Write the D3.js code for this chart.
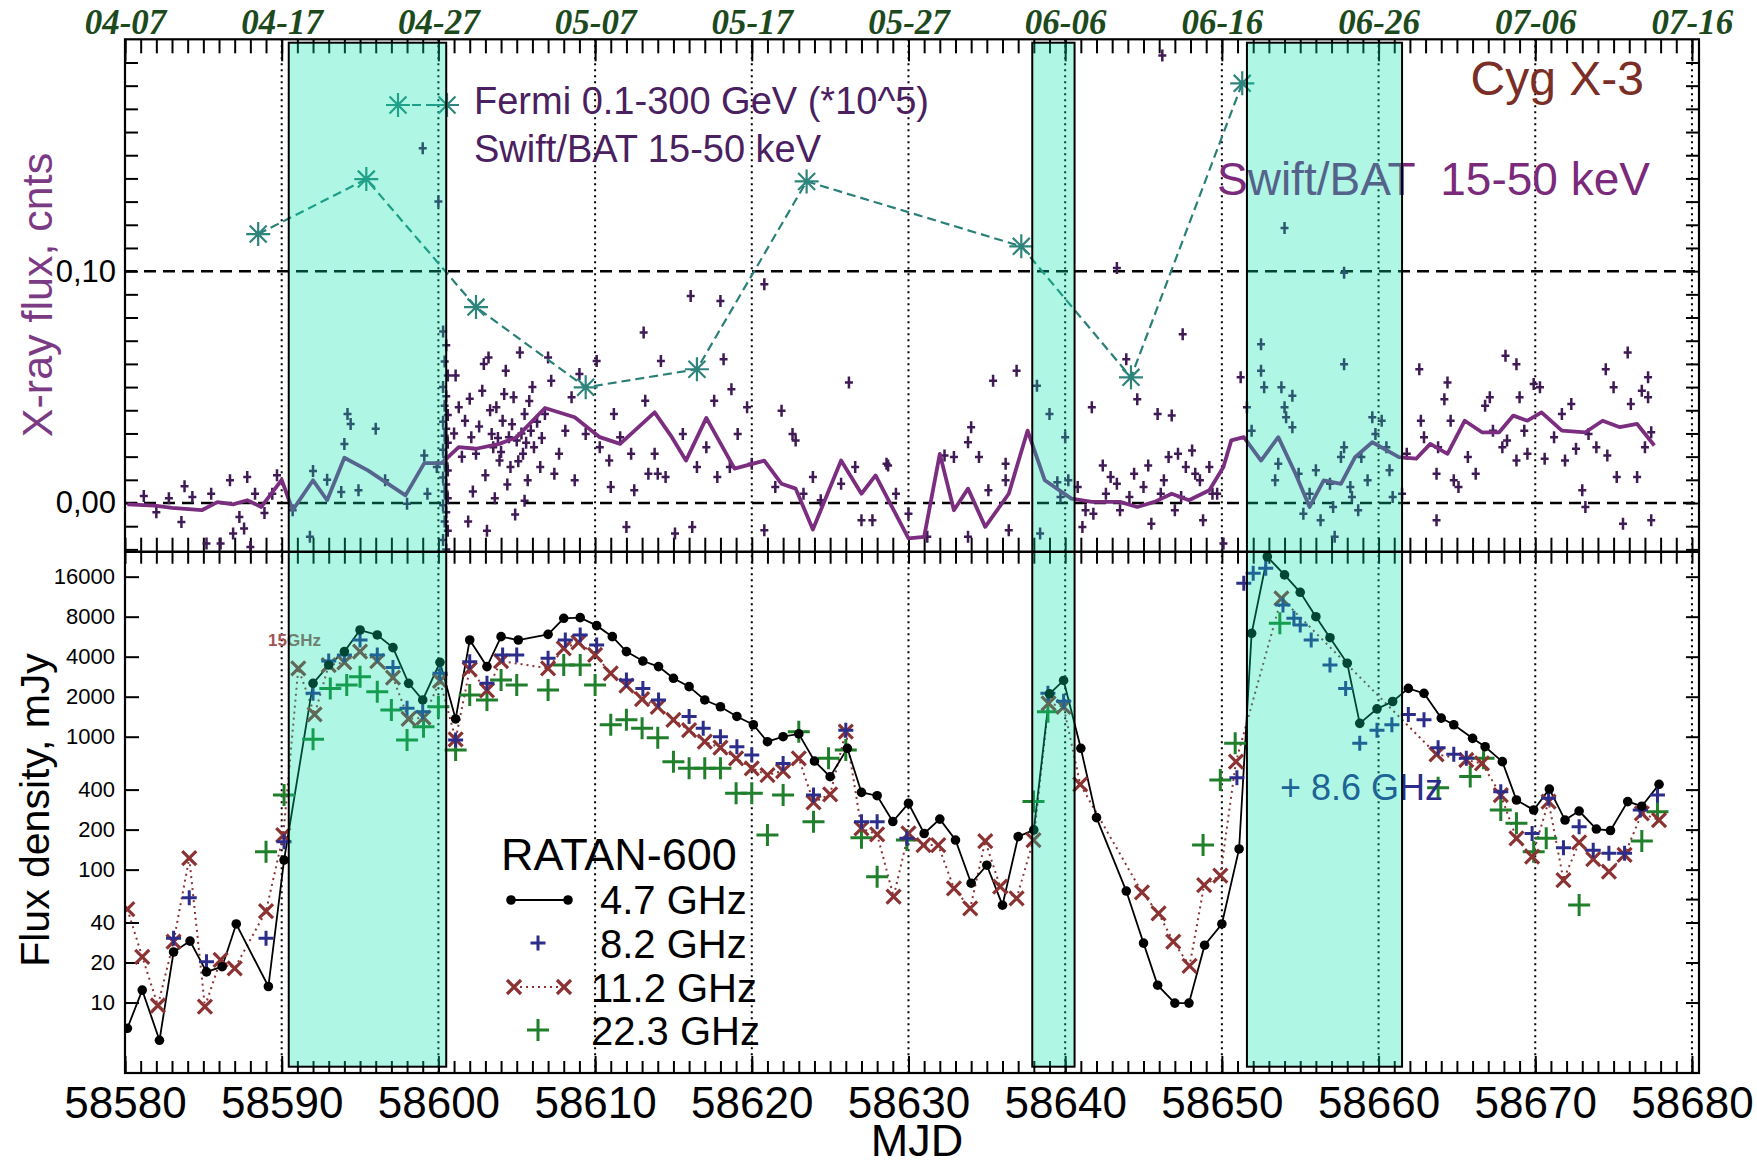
<!DOCTYPE html>
<html>
<head>
<meta charset="utf-8">
<script src="https://cdn.jsdelivr.net/npm/d3@7"></script>
<style>
  body { margin: 0; background: #fff; }
  svg { display: block; }
  text { font-family: "Liberation Sans", Arial, Helvetica, sans-serif; }
</style>
</head>
<body>
<svg id="chart" width="1757" height="1167"></svg>
<script>
// ---- data (MJD, value) ----

// Swift/BAT 15-50 keV single measurements, cnts
var batPoints = [
  [58581.2,0.003],[58582.0,-0.004],[58582.8,0.002],[58583.6,-0.0082],[58583.8,0.0072],[58584.3,0.0026],
  [58585.2,-0.0175],[58585.5,0.004],[58586.1,-0.0175],[58586.7,0.0098],[58586.9,-0.0132],[58587.3,-0.006],
  [58587.6,-0.011],[58587.8,0.0112],[58588.0,-0.019],[58588.3,0.004],[58588.9,-0.0043],[58589.4,0.004],[58589.7,0.012],
  [58590.7,-0.0031],[58591.8,-0.0146],[58592.0,0.0138],[58592.9,0.010],[58593.8,0.0047],[58594.0,0.0255],
  [58594.2,0.0384],[58594.4,0.0341],[58594.9,0.0055],[58596.0,0.032],[58596.6,0.0098],[58598.0,-0.0003],
  [58599.1,0.0205],[58599.3,0.004],[58599.9,0.0155],[58599.0,0.153],[58600.0,0.130],
  [58600.3,0.074],[58600.5,0.068],[58600.4,0.061],[58600.6,0.055],[58600.3,0.050],[58600.5,0.046],[58600.4,0.042],
  [58600.6,0.038],[58600.3,0.035],[58600.5,0.032],[58600.4,0.029],[58600.6,0.026],[58600.3,0.023],[58600.5,0.020],
  [58600.4,0.017],[58600.6,0.014],[58600.3,0.011],[58600.5,0.008],[58600.4,0.005],[58600.6,0.002],[58600.3,-0.001],
  [58600.5,-0.004],[58600.4,-0.008],[58600.6,-0.012],[58600.3,-0.016],[58600.5,-0.020],
  [58601.3,0.0413],[58601.7,0.0355],[58602.1,0.0284],[58602.4,0.0212],[58602.8,0.0484],[58603.2,0.0628],
  [58603.4,0.0298],[58603.5,0.0241],[58603.7,0.0413],[58603.9,0.0183],[58604.1,0.0355],[58604.3,0.057],
  [58604.5,0.0284],[58604.6,0.0155],[58604.8,0.0456],[58605.0,0.027],[58605.2,0.0649],[58605.4,0.0212],
  [58605.5,0.0384],[58605.7,0.0098],[58605.9,0.0312],[58606.1,0.0241],[58606.5,0.0155],[58606.8,0.0384],
  [58607.0,0.0628],[58607.2,0.0527],[58607.4,0.0126],[58607.7,0.0212],[58608.1,0.0312],[58608.5,0.0456],[58608.7,0.0098],
  [58601.0,0.030],[58601.5,0.020],[58602.0,0.045],[58602.6,0.033],[58603.0,0.012],[58603.3,0.040],[58603.8,0.028],
  [58604.0,0.022],[58604.2,0.047],[58604.7,0.034],[58605.1,0.018],[58605.3,0.030],[58605.6,0.026],[58605.8,0.044],
  [58606.3,0.035],[58606.6,0.028],[58601.1,0.055],[58602.2,0.005],[58603.6,0.002],[58604.4,0.008],[58605.5,0.001],
  [58601.9,-0.008],[58603.1,-0.012],[58604.9,-0.005],[58606.0,0.050],[58602.9,0.060],
  [58609.0,0.0556],[58609.4,0.0298],[58610.1,0.0613],[58610.3,0.0241],[58610.9,0.0183],[58611.0,0.0069],
  [58611.2,0.0384],[58611.6,0.0284],[58612.0,-0.0103],[58612.3,0.0212],[58612.5,0.0055],[58613.1,0.0735],
  [58613.2,0.0441],[58613.4,0.0126],[58613.8,0.0212],[58614.0,0.0126],[58614.2,0.0613],[58614.5,0.0112],
  [58615.1,-0.0132],[58615.6,0.0298],[58616.1,0.0893],[58616.2,-0.0103],[58616.5,0.0155],[58617.1,0.0241],
  [58617.6,0.0441],[58617.8,0.0112],[58618.0,0.0871],[58618.2,0.062],[58618.6,0.0155],[58618.7,0.0491],
  [58619.1,0.0298],[58619.7,0.0413],[58620.0,0.0169],[58620.8,-0.0117],[58620.8,0.0943],[58621.5,0.0069],
  [58621.9,0.0398],[58622.6,0.0298],[58622.8,0.027],[58623.3,0.004],[58623.9,0.0112],[58624.4,0.0012],
  [58625.7,0.0083],[58626.2,0.052],[58626.6,0.0155],[58627.0,-0.0074],[58627.7,-0.0074],[58628.6,0.0169],
  [58629.2,0.004],[58628.7,0.0162],[58630.0,-0.0046],[58631.2,-0.0146],[58632.3,0.0205],[58632.9,0.0198],
  [58633.8,-0.0146],[58634.0,0.0327],[58633.8,0.0262],[58634.5,0.0198],[58635.1,0.0055],[58635.4,0.0527],
  [58636.2,0.0169],[58636.2,0.0098],[58636.4,-0.0117],[58636.9,0.057],[58638.2,0.0506],[58638.4,-0.0132],
  [58639.0,0.0384],[58639.5,0.009],[58639.7,0.0026],[58640.0,0.0284],[58640.2,0.0098],[58640.8,0.0069],
  [58641.1,-0.0103],[58641.3,-0.0031],[58641.7,0.0413],[58641.8,-0.0046],[58642.4,0.0162],[58642.6,0.004],
  [58642.9,0.0112],[58643.3,0.0083],[58643.5,-0.0031],[58643.9,0.062],[58644.1,0.0026],[58644.4,0.0126],
  [58644.6,0.0448],[58645.0,0.0069],[58645.3,0.0162],[58645.5,-0.0089],[58645.9,0.0384],[58646.1,0.004],
  [58646.3,0.0098],[58646.6,0.0198],[58646.8,0.0377],[58647.0,-0.0031],[58647.2,0.0212],[58647.4,0.0026],
  [58647.5,0.0728],[58647.7,0.0155],[58648.1,0.0226],[58648.3,0.0126],[58648.6,0.0098],[58648.8,-0.0074],
  [58649.2,0.0155],[58649.4,0.004],[58649.7,0.004],[58650.1,-0.0175],[58651.2,0.0542],
  [58651.6,0.0413],[58651.9,0.0312],[58652.5,0.0685],[58652.5,0.057],[58652.7,0.0499],[58653.4,0.0098],
  [58653.6,0.0169],[58653.8,0.0499],[58654.0,0.0413],[58654.1,0.037],[58654.5,0.0463],[58654.5,0.0327],
  [58654.9,0.0126],[58655.2,-0.0046],[58655.6,0.004],[58656.0,0.0141],[58656.3,-0.0074],[58656.9,0.0083],
  [58657.1,-0.0017],[58657.2,-0.0146],[58657.6,0.0198],[58657.8,0.0599],[58657.8,0.0241],[58658.2,0.0069],
  [58658.3,0.0026],[58658.7,-0.0031],[58658.9,0.0198],[58659.3,0.0098],[58659.6,0.037],[58659.8,0.0298],
  [58660.2,0.0355],[58660.5,0.0241],[58660.7,0.0141],[58660.9,0.0026],
  [58661.5,0.004],[58661.8,0.0212],[58662.6,0.0577],[58662.7,0.0355],[58662.9,0.0284],[58663.7,0.0126],
  [58663.7,-0.0074],[58663.8,0.0241],[58664.2,0.0448],[58664.4,0.052],[58664.6,0.0355],[58664.8,0.0098],
  [58665.1,0.0069],[58665.7,0.0198],[58666.2,0.0126],[58666.8,0.042],[58667.1,0.0456],[58667.3,0.0312],
  [58667.9,0.0241],[58668.1,0.0635],[58668.2,0.027],[58668.8,0.0599],[58668.8,0.0183],[58669.0,0.0456],
  [58669.3,0.0312],[58669.5,0.0212],[58669.9,0.0513],[58670.3,0.0499],[58670.6,0.0191],[58671.2,0.0284],
  [58671.7,0.0384],[58671.9,0.0183],[58672.3,0.0427],[58672.6,0.0234],[58673.0,0.0055],[58673.2,-0.0017],
  [58673.4,0.0298],[58673.9,0.0241],[58674.5,0.0577],[58674.6,0.0205],[58675.0,0.0499],[58675.2,0.0112],
  [58675.6,-0.0089],[58675.9,0.0649],[58676.1,0.0427],[58676.5,0.0112],[58676.8,0.0484],[58677.0,0.0241],
  [58677.2,0.0542],[58677.4,-0.0074],[58677.2,0.0456],[58677.4,0.0305],
  [58643.3,0.1014],[58646.2,0.193],[58654.0,0.1186],[58657.8,0.0993]
];

// Swift/BAT daily average (purple line)
var batMean = [
  [58580.15,-0.0006],[58581.9,-0.0011],[58583.0,-0.0021],[58584.9,-0.0031],[58585.9,0.0004],[58586.9,-0.0006],
  [58587.8,0.0012],[58588.7,-0.0017],[58590.0,0.0100],[58590.7,-0.0031],[58592.0,0.0098],[58592.9,0.0012],
  [58594.0,0.0195],[58595.5,0.0141],[58597.9,0.0033],[58599.1,0.0172],[58600.2,0.0172],[58601.3,0.0241],
  [58602.4,0.0234],[58603.9,0.0255],[58605.0,0.0284],[58606.8,0.041],[58608.7,0.037],[58610.3,0.0284],
  [58611.6,0.0255],[58613.8,0.0391],[58614.9,0.0284],[58615.8,0.0183],[58617.1,0.0367],[58618.9,0.0148],
  [58620.8,0.0183],[58621.9,0.0083],[58622.8,0.0062],[58623.9,-0.0114],[58625.7,0.0183],[58627.0,0.004],
  [58627.9,0.0119],[58630.0,-0.0153],[58631.0,-0.0146],[58632.0,0.0212],[58632.9,-0.0031],[58633.8,0.0062],
  [58634.9,-0.0103],[58636.4,0.004],[58637.6,0.0312],[58638.7,0.0098],[58640.4,0.0019],[58641.7,0.0005],
  [58643.5,0.0005],[58644.6,-0.0017],[58645.7,0.0005],[58646.8,0.004],[58647.9,0.0012],[58649.2,0.0055],
  [58650.1,0.0155],[58650.6,0.027],[58651.4,0.0284],[58652.5,0.0183],[58653.6,0.0284],[58654.7,0.0126],
  [58655.6,-0.0017],[58656.5,0.0098],[58657.6,0.0083],[58658.5,0.0198],[58659.6,0.0262],[58661.3,0.0198],
  [58662.4,0.0191],[58663.3,0.0255],[58664.4,0.0212],[58665.5,0.0355],[58666.6,0.0305],[58667.7,0.0305],
  [58668.6,0.0377],[58669.5,0.0355],[58670.4,0.0391],[58671.7,0.0312],[58673.2,0.0305],[58674.3,0.0355],
  [58675.4,0.0327],[58676.5,0.0341],[58677.6,0.0248]
];

// Fermi 0.1-300 GeV (*10^5)
var fermi = [
  [58588.5,0.116],[58595.4,0.1397],[58602.4,0.0845],[58609.4,0.0499],[58616.5,0.0577],
  [58623.5,0.1387],[58637.2,0.1107],[58644.2,0.0542],[58651.3,0.181]
];

// RATAN-600 flux densities, mJy
var ratan47 = [
  [58580.15,6.4],[58581.1,12.4],[58582.2,5.2],[58583.1,24],[58584.15,29],[58585.2,17],[58586.2,18.6],
  [58587.1,39],[58589.15,13.2],[58590.15,118],[58592.0,2520],[58593.0,3460],[58594.0,4370],[58595.0,6350],
  [58596.1,5830],[58597.1,4680],[58598.1,2520],[58599.0,1890],[58600.1,3630],[58601.1,1360],[58602.0,5340],
  [58603.1,3370],[58604.0,5660],[58605.1,5340],[58607.0,5890],[58608.0,7780],[58609.05,7870],[58610.1,6850],
  [58611.1,5660],[58612.0,4370],[58613.05,3710],[58614.05,3370],[58615.0,2750],[58616.0,2380],[58617.0,1890],
  [58618.0,1680],[58619.05,1420],[58620.1,1230],[58621.0,917],[58622.0,1000],[58623.0,1050],[58624.0,656],
  [58625.0,500],[58626.1,818],[58627.0,381],[58628.0,360],[58629.0,230],[58630.0,315],[58631.0,187],
  [58632.0,240],[58633.0,167],[58634.0,79],[58635.0,108],[58636.0,54],[58637.0,177],[58638.0,199],
  [58639.0,2100],[58639.9,2650],[58641.0,818],[58642.0,246],[58643.9,69],[58645.0,28],[58645.9,13.5],
  [58647.0,9.9],[58647.9,9.9],[58648.9,27],[58650.0,39],[58651.1,143],[58651.9,6000],[58652.9,22600],
  [58654.0,16500],[58655.0,12200],[58656.0,8000],[58656.9,5560],[58658.0,3570],[58658.8,1260],[58659.9,1620],
  [58660.9,1840],[58661.9,2310],[58662.9,2120],[58664.0,1380],[58664.8,1230],[58666.0,972],[58666.8,841],
  [58667.9,649],[58668.8,334],[58669.9,281],[58670.9,404],[58671.9,236],[58672.8,276],[58673.9,202],
  [58674.8,197],[58675.9,325],[58676.8,300],[58677.9,438]
];
var ratan82 = [
  [58583.1,30.4],[58584.1,61.5],[58585.2,20.3],[58589.0,30.4],[58590.15,162],[58592.0,2120],[58593.0,3710],
  [58594.0,4120],[58595.0,5340],[58596.1,4120],[58597.1,3310],[58598.0,1640],[58599.0,1540],[58600.1,3000],
  [58601.1,945],[58602.0,3670],[58603.1,2520],[58604.1,4120],[58605.0,4120],[58607.0,3890],[58608.1,5340],
  [58609.05,5830],[58610.1,4900],[58612.0,2670],[58613.05,2310],[58614.05,1890],[58616.0,1420],[58616.9,1160],
  [58618.0,1000],[58619.05,841],[58620.0,729],[58622.0,630],[58623.94,364],[58626.0,1120],[58627.0,229],
  [58628.0,229],[58629.9,172],[58638.9,2120],[58639.9,1850],[58650.96,492],[58651.4,14300],[58652.0,17000],
  [58652.8,18500],[58653.9,9800],[58654.6,7780],[58655.0,6930],[58655.7,5340],[58656.9,3460],[58657.9,2310],
  [58658.8,892],[58659.9,1120],[58660.85,1230],[58661.9,1470],[58662.9,1340],[58663.8,827],[58664.8,737],
  [58665.6,688],[58667.8,386],[58669.8,187],[58670.85,344],[58671.8,146],[58672.8,210],[58673.7,140],
  [58674.7,133],[58675.7,133],[58676.7,281],[58677.8,364]
];
var ratan112 = [
  [58580.15,50.5],[58581.1,22.1],[58582.1,9.5],[58583.1,28.7],[58584.1,122],[58585.1,9.3],[58586.1,20.9],
  [58587.0,18.1],[58589.0,48.8],[58590.1,182],[58591.06,3270],[58592.1,1470],[58593.0,3460],[58594.0,3630],
  [58595.0,4370],[58596.1,3710],[58597.1,2780],[58598.1,1360],[58599.05,1390],[58600.1,2630],[58601.1,956],
  [58602.0,3210],[58603.1,2230],[58604.0,3710],[58607.0,3270],[58608.0,4620],[58608.94,5130],[58610.0,4120],
  [58611.0,3000],[58612.0,2420],[58613.0,1920],[58614.0,1680],[58615.0,1340],[58616.0,1120],[58617.0,917],
  [58618.0,827],[58619.0,688],[58620.0,578],[58621.0,515],[58622.0,552],[58623.0,688],[58623.94,321],
  [58625.0,368],[58626.0,1090],[58627.0,204],[58628.0,184],[58629.05,62.6],[58630.0,187],[58630.96,153],
  [58631.9,153],[58632.9,72.3],[58633.94,51.1],[58634.9,164],[58635.85,74.4],[58636.9,60.8],[58637.98,167],
  [58638.94,1780],[58639.9,1680],[58640.96,438],[58644.9,67.4],[58645.96,46.9],[58646.9,28.7],[58647.94,18.9],
  [58648.87,76.6],[58649.9,90],[58650.9,649],[58653.8,11000],[58663.7,737],[58665.6,668],[58666.6,630],
  [58667.8,364],[58668.8,172],[58669.8,125],[58670.85,325],[58671.8,83.5],[58672.8,160],[58673.7,120],
  [58674.7,96.5],[58675.7,129],[58676.8,265],[58677.9,236]
];
var ratan223 = [
  [58589.0,136],[58590.15,364],[58592.0,956],[58593.1,2310],[58594.15,2450],[58595.0,2830],[58596.1,2180],
  [58597.0,1590],[58598.0,945],[58599.05,1190],[58600.0,1680],[58601.1,794],[58602.0,2060],[58603.1,1890],
  [58604.0,2670],[58605.0,2450],[58607.0,2250],[58608.0,3460],[58609.05,3460],[58610.0,2450],[58611.0,1230],
  [58612.0,1340],[58613.0,1160],[58614.0,983],[58615.0,649],[58616.0,578],[58617.0,578],[58618.0,578],
  [58619.0,375],[58620.0,375],[58621.0,182],[58622.0,364],[58623.0,1090],[58623.94,229],[58624.9,688],
  [58626.0,794],[58627.0,174],[58628.0,88.5],[58629.9,167],[58637.98,325],[58638.9,1540],[58648.8,153],
  [58649.9,472],[58650.85,892],[58653.7,7130],[58663.8,413],[58665.85,501],[58666.7,688],[58667.8,281],
  [58668.8,223],[58669.9,136],[58670.7,172],[58672.8,54.2],[58676.8,164],[58677.8,273]
];

// flare intervals (shaded), MJD
var bandStart = [58590.45, 58637.9, 58651.6];
var bandEnd   = [58600.5, 58640.6, 58661.5];

// tick values and labels
var mjdMajor = [58580,58590,58600,58610,58620,58630,58640,58650,58660,58670,58680];
var dateLabels = ["04-07","04-17","04-27","05-07","05-17","05-27","06-06","06-16","06-26","07-06","07-16"];
var xrayTicks = [0, 0.1];
var xrayTickLabels = ["0,00", "0,10"];
var fluxTicks = [10,20,40,100,200,400,1000,2000,4000,8000,16000];

// ---- layout ----
var svg = d3.select("#chart");
var L = 125, R = 1699, T = 39.3, MID = 551.7, B = 1073;

var x = d3.scaleLinear().domain([58580, 58680.45]).range([L, R]);
var yTop = d3.scaleLinear().domain([-0.021, 0.2]).range([MID, T]);
var yBot = d3.scaleLog().domain([2.95, 24660]).range([B, MID]);

// clip paths for the two panels
var defs = svg.append("defs");
defs.append("clipPath").attr("id", "clipTop").append("rect")
  .attr("x", L).attr("y", T).attr("width", R - L).attr("height", MID - T);
defs.append("clipPath").attr("id", "clipBot").append("rect")
  .attr("x", L).attr("y", MID).attr("width", R - L).attr("height", B - MID);

function plusPath(h, v) { return "M" + (-h) + ",0H" + h + "M0," + (-v) + "V" + v; }
function crossPath(a) { return "M" + (-a) + "," + (-a) + "L" + a + "," + a + "M" + (-a) + "," + a + "L" + a + "," + (-a); }
function starPath(r) {
  var d = r * 0.7071;
  return "M0," + (-r) + "V" + r + "M" + (-r) + ",0H" + r +
    "M" + (-d) + "," + (-d) + "L" + d + "," + d + "M" + (-d) + "," + d + "L" + d + "," + (-d);
}

// ---- axes ticks (drawn first so the bands tint them) ----
function styleAxis(g) {
  g.select(".domain").remove();
  g.selectAll(".tick line").attr("stroke", "#000").attr("stroke-width", 2);
}

var minorDays = d3.range(58580, 58681, 1);

// top frame: day ticks + date labels
svg.append("g").attr("transform", "translate(0," + T + ")")
  .call(d3.axisTop(x).tickValues(minorDays).tickSize(-14).tickFormat(""))
  .call(styleAxis);
svg.append("g").attr("transform", "translate(0," + T + ")")
  .call(d3.axisTop(x).tickValues(mjdMajor).tickSize(-22).tickPadding(5)
    .tickFormat(function (d, i) { return dateLabels[i]; }))
  .call(styleAxis)
  .selectAll("text")
  .style("font-family", "'Liberation Serif', 'Times New Roman', serif")
  .style("font-weight", "bold").style("font-style", "italic")
  .style("font-size", "35px").attr("fill", "#1d4a1d");

// panel separator: ticks up (top panel) and down (bottom panel)
svg.append("g").attr("transform", "translate(0," + MID + ")")
  .call(d3.axisBottom(x).tickValues(minorDays).tickSize(-14).tickFormat(""))
  .call(styleAxis);
svg.append("g").attr("transform", "translate(0," + MID + ")")
  .call(d3.axisTop(x).tickValues(minorDays).tickSize(-12).tickFormat(""))
  .call(styleAxis);

// bottom axis
svg.append("g").attr("transform", "translate(0," + B + ")")
  .call(d3.axisBottom(x).tickValues(minorDays).tickSize(-12).tickFormat(""))
  .call(styleAxis);
svg.append("g").attr("transform", "translate(0," + B + ")")
  .call(d3.axisBottom(x).tickValues(mjdMajor).tickSize(-17).tickPadding(14).tickFormat(d3.format("d")))
  .call(styleAxis)
  .selectAll("text").style("font-size", "44px").attr("fill", "#000");

// top panel y ticks
var xrayMinor = d3.range(-2, 20).map(function (k) { return k / 100; });
svg.append("g").attr("transform", "translate(" + L + ",0)")
  .call(d3.axisLeft(yTop).tickValues(xrayMinor).tickSize(-13).tickFormat(""))
  .call(styleAxis);
svg.append("g").attr("transform", "translate(" + R + ",0)")
  .call(d3.axisRight(yTop).tickValues(xrayMinor).tickSize(-13).tickFormat(""))
  .call(styleAxis);
svg.append("g").attr("transform", "translate(" + L + ",0)")
  .call(d3.axisLeft(yTop).tickValues(xrayTicks).tickSize(0).tickPadding(9)
    .tickFormat(function (d, i) { return xrayTickLabels[i]; }))
  .call(styleAxis)
  .selectAll("text").style("font-size", "31px").attr("fill", "#000");

// bottom panel y ticks
svg.append("g").attr("transform", "translate(" + L + ",0)")
  .call(d3.axisLeft(yBot).tickValues(fluxTicks).tickSize(-14).tickPadding(10).tickFormat(d3.format("d")))
  .call(styleAxis)
  .selectAll("text").style("font-size", "22px").attr("fill", "#000");
svg.append("g").attr("transform", "translate(" + R + ",0)")
  .call(d3.axisRight(yBot).tickValues(fluxTicks.concat([60])).tickSize(-13).tickFormat(""))
  .call(styleAxis);

// dotted vertical grid every 10 days, dashed horizontal at 0 and 0.1
svg.append("g").selectAll("line").data(mjdMajor.slice(1)).join("line")
  .attr("x1", function (d) { return x(d); }).attr("x2", function (d) { return x(d); })
  .attr("y1", T).attr("y2", B)
  .attr("stroke", "#000").attr("stroke-width", 2).attr("stroke-dasharray", "2,4");
svg.append("g").selectAll("line").data(xrayTicks).join("line")
  .attr("x1", L).attr("x2", R)
  .attr("y1", function (d) { return yTop(d); }).attr("y2", function (d) { return yTop(d); })
  .attr("stroke", "#000").attr("stroke-width", 2.5).attr("stroke-dasharray", "12,7");

// ---- top panel data ----
var gTop = svg.append("g").attr("clip-path", "url(#clipTop)");

gTop.append("g").selectAll("path").data(batPoints).join("path")
  .attr("transform", function (d) { return "translate(" + x(d[0]) + "," + yTop(d[1]) + ")"; })
  .attr("d", plusPath(4, 6))
  .attr("stroke", "#3f1a55").attr("stroke-width", 2.5).attr("fill", "none");

gTop.append("path").datum(batMean)
  .attr("d", d3.line().x(function (d) { return x(d[0]); }).y(function (d) { return yTop(d[1]); }))
  .attr("fill", "none").attr("stroke", "#7b2d80").attr("stroke-width", 3.8).attr("stroke-linejoin", "round");

gTop.append("path").datum(fermi)
  .attr("d", d3.line().x(function (d) { return x(d[0]); }).y(function (d) { return yTop(d[1]); }))
  .attr("fill", "none").attr("stroke", "#2a8078").attr("stroke-width", 2.2).attr("stroke-dasharray", "9,5");
gTop.append("g").selectAll("path").data(fermi).join("path")
  .attr("transform", function (d) { return "translate(" + x(d[0]) + "," + yTop(d[1]) + ")"; })
  .attr("d", starPath(12))
  .attr("stroke", "#2e857c").attr("stroke-width", 2.2).attr("fill", "none");

// top panel legend and labels
svg.append("path").attr("d", "M398,105H447").attr("stroke", "#2a8078")
  .attr("stroke-width", 2.2).attr("stroke-dasharray", "9,5");
[398, 447].forEach(function (px) {
  svg.append("path").attr("transform", "translate(" + px + ",105)").attr("d", starPath(12))
    .attr("stroke", "#2e857c").attr("stroke-width", 2.2).attr("fill", "none");
});
svg.append("text").attr("x", 474).attr("y", 114).style("font-size", "38px").attr("fill", "#4a2060")
  .text("Fermi 0.1-300 GeV (*10^5)");
svg.append("text").attr("x", 474).attr("y", 162).style("font-size", "38px").attr("fill", "#4a2060")
  .text("Swift/BAT 15-50 keV");
svg.append("text").attr("x", 1644).attr("y", 95).attr("text-anchor", "end")
  .style("font-size", "48px").attr("fill", "#7a2e26").text("Cyg X-3");
svg.append("text").attr("x", 1217).attr("y", 195).attr("xml:space", "preserve")
  .style("font-size", "46px").attr("fill", "#7b2a7b").text("Swift/BAT  15-50 keV");

// ---- bottom panel data ----
var gBot = svg.append("g").attr("clip-path", "url(#clipBot)");
var lineBot = d3.line().x(function (d) { return x(d[0]); }).y(function (d) { return yBot(d[1]); });

gBot.append("path").datum(ratan112).attr("d", lineBot)
  .attr("fill", "none").attr("stroke", "#8b3333").attr("stroke-width", 2).attr("stroke-dasharray", "2,4");
gBot.append("path").datum(ratan47).attr("d", lineBot)
  .attr("fill", "none").attr("stroke", "#000").attr("stroke-width", 1.8);

gBot.append("g").selectAll("path").data(ratan223).join("path")
  .attr("transform", function (d) { return "translate(" + x(d[0]) + "," + yBot(d[1]) + ")"; })
  .attr("d", plusPath(11, 11)).attr("stroke", "#1f7f2a").attr("stroke-width", 3).attr("fill", "none");
gBot.append("g").selectAll("path").data(ratan112).join("path")
  .attr("transform", function (d) { return "translate(" + x(d[0]) + "," + yBot(d[1]) + ")"; })
  .attr("d", crossPath(7)).attr("stroke", "#8b3333").attr("stroke-width", 3.2).attr("fill", "none");
gBot.append("g").selectAll("path").data(ratan82).join("path")
  .attr("transform", function (d) { return "translate(" + x(d[0]) + "," + yBot(d[1]) + ")"; })
  .attr("d", plusPath(7.5, 7.5)).attr("stroke", "#2c2c8a").attr("stroke-width", 3).attr("fill", "none");
gBot.append("g").selectAll("circle").data(ratan47).join("circle")
  .attr("cx", function (d) { return x(d[0]); }).attr("cy", function (d) { return yBot(d[1]); })
  .attr("r", 4.8).attr("fill", "#000");

// bottom panel legend and labels
svg.append("text").attr("x", 501).attr("y", 870).style("font-size", "45px").attr("fill", "#000").text("RATAN-600");
svg.append("line").attr("x1", 511).attr("x2", 568).attr("y1", 900).attr("y2", 900)
  .attr("stroke", "#000").attr("stroke-width", 1.8);
svg.append("circle").attr("cx", 511).attr("cy", 900).attr("r", 4.8).attr("fill", "#000");
svg.append("circle").attr("cx", 568).attr("cy", 900).attr("r", 4.8).attr("fill", "#000");
svg.append("path").attr("transform", "translate(538,943)").attr("d", plusPath(7.5, 7.5))
  .attr("stroke", "#2c2c8a").attr("stroke-width", 3).attr("fill", "none");
svg.append("line").attr("x1", 514).attr("x2", 564).attr("y1", 987).attr("y2", 987)
  .attr("stroke", "#8b3333").attr("stroke-width", 2).attr("stroke-dasharray", "2,4");
[514, 564].forEach(function (px) {
  svg.append("path").attr("transform", "translate(" + px + ",987)").attr("d", crossPath(7))
    .attr("stroke", "#8b3333").attr("stroke-width", 3.2).attr("fill", "none");
});
svg.append("path").attr("transform", "translate(538,1030)").attr("d", plusPath(11, 11))
  .attr("stroke", "#1f7f2a").attr("stroke-width", 3).attr("fill", "none");

var legendRows = [["4.7 GHz", 600, 914], ["8.2 GHz", 600, 958], ["11.2 GHz", 591, 1002], ["22.3 GHz", 591, 1045]];
legendRows.forEach(function (r) {
  svg.append("text").attr("x", r[1]).attr("y", r[2]).style("font-size", "40px").attr("fill", "#000").text(r[0]);
});

svg.append("text").attr("x", 268).attr("y", 646).style("font-size", "17px").style("font-weight", "bold")
  .attr("fill", "#a05555").text("15GHz");
svg.append("text").attr("x", 1280).attr("y", 800).style("font-size", "36px").attr("fill", "#2c2c8a")
  .attr("xml:space", "preserve").text("+ 8.6 GHz");

// ---- shaded flare intervals, translucent over everything ----
var bands = d3.range(bandStart.length);
svg.append("g").selectAll("rect").data(bands).join("rect")
  .attr("x", function (i) { return x(bandStart[i]); })
  .attr("width", function (i) { return x(bandEnd[i]) - x(bandStart[i]); })
  .attr("y", 42.7).attr("height", 1066.7 - 42.7)
  .attr("fill", "rgb(0,225,170)").attr("fill-opacity", 0.31)
  .attr("stroke", "#000").attr("stroke-width", 2);

// ---- frame ----
svg.append("rect").attr("x", L).attr("y", T).attr("width", R - L).attr("height", B - T)
  .attr("fill", "none").attr("stroke", "#000").attr("stroke-width", 2.2);
svg.append("line").attr("x1", L).attr("x2", R).attr("y1", MID).attr("y2", MID)
  .attr("stroke", "#000").attr("stroke-width", 2.5);

// axis titles
svg.append("text").attr("transform", "translate(52,295) rotate(-90)").attr("text-anchor", "middle")
  .style("font-size", "43px").attr("fill", "#7b3b84").text("X-ray flux, cnts");
svg.append("text").attr("transform", "translate(49,810) rotate(-90)").attr("text-anchor", "middle")
  .style("font-size", "41px").attr("fill", "#000").text("Flux density, mJy");
svg.append("text").attr("x", 917).attr("y", 1156).attr("text-anchor", "middle")
  .style("font-size", "45px").attr("fill", "#000").text("MJD");
</script>
</body>
</html>
